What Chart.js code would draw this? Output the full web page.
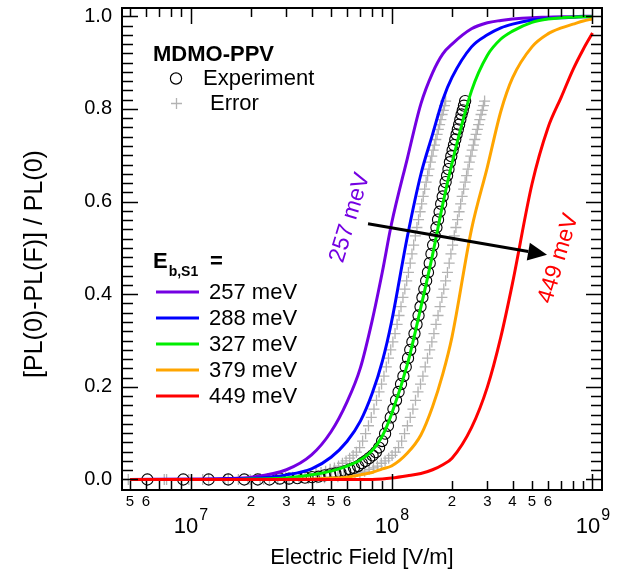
<!DOCTYPE html>
<html>
<head>
<meta charset="utf-8">
<script src="https://cdn.jsdelivr.net/npm/chart.js@4.4.1/dist/chart.umd.min.js"></script>
<style>
  body { margin: 0; background: #fff; }
  canvas { display: block; }
</style>
</head>
<body>
<canvas id="chart" width="632" height="571"></canvas>
<script>
// ========================
// Data
// ========================
// fitted curves, field in V/m
const fieldGrid = [5e6, 1e7, 1.5e7, 2e7, 3e7, 4e7, 5e7, 6e7, 7e7, 8e7, 9e7, 1e8, 1.2e8, 1.4e8, 1.6e8, 1.8e8, 2e8, 2.5e8, 3e8, 3.5e8, 4e8, 5e8, 6e8, 7e8, 8e8, 9e8, 1e9];
const fit257 = [0.000, 0.001, 0.002, 0.005, 0.021, 0.053, 0.103, 0.167, 0.241, 0.342, 0.448, 0.552, 0.694, 0.811, 0.878, 0.919, 0.940, 0.973, 0.986, 0.991, 0.994, 0.997, 0.998, 0.999, 0.999, 1.000, 1.000];
const fit288 = [0.000, 0.000, 0.001, 0.002, 0.010, 0.023, 0.048, 0.082, 0.126, 0.185, 0.255, 0.340, 0.525, 0.659, 0.745, 0.820, 0.868, 0.934, 0.960, 0.975, 0.983, 0.992, 0.995, 0.997, 0.998, 0.999, 0.999];
const fit327 = [0.000, 0.000, 0.000, 0.001, 0.003, 0.010, 0.018, 0.029, 0.042, 0.062, 0.094, 0.141, 0.249, 0.372, 0.485, 0.595, 0.683, 0.839, 0.916, 0.951, 0.968, 0.987, 0.994, 0.997, 0.998, 0.999, 0.999];
const fit379 = [0.000, 0.000, 0.000, 0.000, 0.000, 0.001, 0.003, 0.005, 0.010, 0.015, 0.023, 0.029, 0.057, 0.096, 0.157, 0.228, 0.308, 0.540, 0.675, 0.795, 0.867, 0.934, 0.962, 0.975, 0.983, 0.990, 0.994];
const fit449 = [0.000, 0.000, 0.000, 0.000, 0.000, 0.000, 0.000, 0.000, 0.000, 0.000, 0.001, 0.003, 0.008, 0.013, 0.021, 0.032, 0.046, 0.112, 0.200, 0.308, 0.424, 0.638, 0.759, 0.826, 0.885, 0.929, 0.964];

const fitLabels = ['257 meV', '288 meV', '327 meV', '379 meV', '449 meV'];
const fitColors = ['#7400e2', '#0000ff', '#00ee00', '#ffa500', '#ff0000'];

// experiment, field in MV/m
const expField = [6.1, 9.2, 12.3, 15.4, 18.5, 21.6, 24.7, 27.8, 30.9, 34.0, 37.1, 40.2, 43.3, 46.4, 49.5, 52.6, 55.7, 58.8, 61.9, 65.0,
  68.1, 71.2, 74.3, 77.4, 80.5, 83.6, 86.7, 89.8, 92.9, 96.0, 99.1, 102.2, 105.3, 108.4, 111.5, 114.6, 117.7, 120.8, 123.9, 127.0,
  130.1, 133.2, 136.3, 139.4, 142.5, 145.6, 148.7, 151.8, 154.9, 158.0, 161.1, 164.2, 167.3, 170.4, 173.5, 176.6, 179.7, 182.8, 185.9, 189.0,
  192.1, 195.2, 198.3, 201.4, 204.5, 207.6, 210.7, 213.8, 216.9, 220.0, 223.1, 226.2, 229.3, 232.4];
const expSignal = [0.000, 0.000, 0.000, 0.000, 0.000, 0.000, 0.000, 0.002, 0.002, 0.003, 0.004, 0.005, 0.006, 0.009, 0.011, 0.013, 0.015, 0.018, 0.022, 0.025,
  0.029, 0.035, 0.040, 0.046, 0.052, 0.059, 0.069, 0.083, 0.099, 0.116, 0.134, 0.152, 0.171, 0.189, 0.206, 0.223, 0.243, 0.262, 0.280, 0.297,
  0.315, 0.335, 0.354, 0.373, 0.393, 0.411, 0.429, 0.447, 0.467, 0.487, 0.506, 0.526, 0.544, 0.561, 0.578, 0.595, 0.611, 0.627, 0.642, 0.656,
  0.670, 0.685, 0.698, 0.711, 0.722, 0.734, 0.745, 0.756, 0.766, 0.777, 0.788, 0.797, 0.807, 0.817];
// error markers (field in MV/m), same heights as experiment
const errLowField = [4.9, 7.4, 9.8, 12.3, 14.8, 17.3, 19.8, 22.2, 24.7, 27.2, 29.7, 32.2, 34.6, 37.1, 39.6, 42.1, 44.6, 47.0, 49.5, 52.0,
  54.5, 57.0, 59.4, 61.9, 64.4, 66.9, 69.4, 71.8, 74.3, 76.8, 79.3, 81.8, 84.2, 86.7, 89.2, 91.7, 94.2, 96.6, 99.1, 101.6,
  104.1, 106.6, 109.0, 111.5, 114.0, 116.5, 119.0, 121.4, 123.9, 126.4, 128.9, 131.4, 133.8, 136.3, 138.8, 141.3, 143.8, 146.2, 148.7, 151.2,
  153.7, 156.2, 158.6, 161.1, 163.6, 166.1, 168.6, 171.0, 173.5, 176.0, 178.5, 181.0, 183.4, 185.9];
const errHighField = [7.6, 11.5, 15.4, 19.3, 23.1, 27.0, 30.9, 34.8, 38.6, 42.5, 46.4, 50.3, 54.1, 58.0, 61.9, 65.8, 69.6, 73.5, 77.4, 81.3,
  85.1, 89.0, 92.9, 96.8, 100.6, 104.5, 108.4, 112.3, 116.1, 120.0, 123.9, 127.8, 131.6, 135.5, 139.4, 143.3, 147.1, 151.0, 154.9, 158.8,
  162.6, 166.5, 170.4, 174.3, 178.1, 182.0, 185.9, 189.8, 193.6, 197.5, 201.4, 205.3, 209.1, 213.0, 216.9, 220.8, 224.6, 228.5, 232.4, 236.3,
  240.1, 244.0, 247.9, 251.8, 255.6, 259.5, 263.4, 267.3, 271.1, 275.0, 278.9, 282.8, 286.6, 290.5];

// axes
const X_MIN = 4.56e6, X_MAX = 1.115e9;
const Y_MIN = -0.0227, Y_MAX = 1.0179;
const yMajorTicks = [0, 0.2, 0.4, 0.6, 0.8, 1.0];
const xMajorTicks = [1e7, 1e8, 1e9];
const xMajorExp = ['7', '8', '9'];
const xMinorLabelled = [5e6, 6e6, 2e7, 3e7, 4e7, 5e7, 6e7, 2e8, 3e8, 4e8, 5e8, 6e8];

// annotations
const arrowFrom = [7.64e7, 0.552];
const arrowTo = [5.94e8, 0.485];
const lowLabel = { text: '257 meV', at: [6.22e7, 0.565], color: '#7400e2' };
const highLabel = { text: '449 meV', at: [6.78e8, 0.477], color: '#ff0000' };

const FONT = '"Liberation Sans", Arial, sans-serif';

// ========================
// Datasets
// ========================
const fits = [fit257, fit288, fit327, fit379, fit449];
const datasets = fits.map((ys, i) => ({
  label: fitLabels[i],
  data: fieldGrid.map((f, j) => ({ x: f, y: ys[j] })),
  showLine: true,
  borderColor: fitColors[i],
  borderWidth: 3,
  pointRadius: 0,
  cubicInterpolationMode: 'monotone',
  order: 5 - i
}));

datasets.push({
  label: 'Experiment',
  data: expField.map((f, j) => ({ x: f * 1e6, y: expSignal[j] })),
  showLine: false,
  pointStyle: 'circle',
  pointRadius: 5.6,
  pointBorderWidth: 1.1,
  borderColor: '#000',
  backgroundColor: 'rgba(0,0,0,0)',
  order: 10
});
datasets.push({
  label: 'Error',
  data: errLowField.map((f, j) => ({ x: f * 1e6, y: expSignal[j] }))
    .concat(errHighField.map((f, j) => ({ x: f * 1e6, y: expSignal[j] }))),
  showLine: false,
  pointStyle: 'cross',
  pointRadius: 5.5,
  pointBorderWidth: 1.3,
  borderColor: '#b3b3b3',
  backgroundColor: '#b3b3b3',
  order: 11
});

// ========================
// Frame, ticks, labels, legend
// ========================
const decorations = {
  id: 'decorations',
  afterDatasetsDraw(chart) {
    const { ctx, chartArea: a, scales: { x, y } } = chart;
    ctx.save();

    // arrow
    const x0 = x.getPixelForValue(arrowFrom[0]), y0 = y.getPixelForValue(arrowFrom[1]);
    const x1 = x.getPixelForValue(arrowTo[0]), y1 = y.getPixelForValue(arrowTo[1]);
    const ang = Math.atan2(y1 - y0, x1 - x0);
    const head = 19, half = 9;
    ctx.strokeStyle = '#000';
    ctx.fillStyle = '#000';
    ctx.lineWidth = 3;
    ctx.beginPath();
    ctx.moveTo(x0, y0);
    ctx.lineTo(x1 - head * Math.cos(ang), y1 - head * Math.sin(ang));
    ctx.stroke();
    ctx.beginPath();
    ctx.moveTo(x1, y1);
    ctx.lineTo(x1 - head * Math.cos(ang) + half * Math.sin(ang), y1 - head * Math.sin(ang) - half * Math.cos(ang));
    ctx.lineTo(x1 - head * Math.cos(ang) - half * Math.sin(ang), y1 - head * Math.sin(ang) + half * Math.cos(ang));
    ctx.closePath();
    ctx.fill();

    // rotated labels
    [lowLabel, highLabel].forEach(l => {
      ctx.save();
      ctx.translate(x.getPixelForValue(l.at[0]), y.getPixelForValue(l.at[1]));
      ctx.rotate(-73 * Math.PI / 180);
      ctx.font = `23px ${FONT}`;
      ctx.fillStyle = l.color;
      ctx.textAlign = 'center';
      ctx.textBaseline = 'middle';
      ctx.fillText(l.text, 0, 0);
      ctx.restore();
    });

    // frame
    ctx.strokeStyle = '#000';
    ctx.lineWidth = 2;
    ctx.strokeRect(a.left, a.top, a.right - a.left, a.bottom - a.top);

    // y ticks (inward, both sides)
    ctx.lineWidth = 1.5;
    ctx.beginPath();
    for (let i = -1; i <= 50; i++) {
      const v = i * 0.02;
      const p = Math.round(y.getPixelForValue(v)) + 0.5;
      if (p < a.top + 1 || p > a.bottom - 1) continue;
      const len = i % 10 === 0 ? 16 : 11;
      ctx.moveTo(a.left, p); ctx.lineTo(a.left + len, p);
      ctx.moveTo(a.right, p); ctx.lineTo(a.right - len, p);
    }
    // x ticks
    for (let e = 6; e <= 9; e++) {
      for (let m = 1; m <= 9; m++) {
        const v = m * Math.pow(10, e);
        if (v < X_MIN || v > X_MAX) continue;
        const p = Math.round(x.getPixelForValue(v)) + 0.5;
        const len = m === 1 ? 16 : 9;
        ctx.moveTo(p, a.bottom); ctx.lineTo(p, a.bottom - len);
        ctx.moveTo(p, a.top); ctx.lineTo(p, a.top + len);
      }
    }
    ctx.stroke();

    // y tick labels
    ctx.fillStyle = '#000';
    ctx.font = `20px ${FONT}`;
    ctx.textAlign = 'right';
    ctx.textBaseline = 'middle';
    yMajorTicks.forEach(v => ctx.fillText(v.toFixed(1), a.left - 10, y.getPixelForValue(v)));

    // x minor labels
    ctx.font = `15px ${FONT}`;
    ctx.textAlign = 'center';
    xMinorLabelled.forEach(v => {
      const digit = String(v).charAt(0);
      ctx.fillText(digit, x.getPixelForValue(v), a.bottom + 12);
    });

    // x major labels 10^n
    xMajorTicks.forEach((v, i) => {
      ctx.font = `22px ${FONT}`;
      const wBase = ctx.measureText('10').width;
      ctx.font = `16px ${FONT}`;
      const wExp = ctx.measureText(xMajorExp[i]).width;
      const left = x.getPixelForValue(v) - (wBase + wExp) / 2;
      ctx.textAlign = 'left';
      ctx.font = `22px ${FONT}`;
      ctx.fillText('10', left, a.bottom + 37);
      ctx.font = `16px ${FONT}`;
      ctx.fillText(xMajorExp[i], left + wBase + 1, a.bottom + 26);
    });

    // axis titles
    ctx.font = `22px ${FONT}`;
    ctx.textAlign = 'center';
    ctx.fillText('Electric Field [V/m]', (a.left + a.right) / 2, a.bottom + 68);
    ctx.save();
    ctx.translate(35, 264);
    ctx.rotate(-Math.PI / 2);
    ctx.font = `25px ${FONT}`;
    ctx.fillText('[PL(0)-PL(F)] / PL(0)', 0, 0);
    ctx.restore();

    // legend: sample block
    ctx.textAlign = 'left';
    ctx.font = `bold 22px ${FONT}`;
    ctx.fillText('MDMO-PPV', 153, 55);
    ctx.font = `22px ${FONT}`;
    ctx.fillText('Experiment', 203, 79);
    ctx.fillText('Error', 210, 104);
    ctx.strokeStyle = '#000';
    ctx.lineWidth = 1.2;
    ctx.beginPath();
    ctx.arc(176, 78.5, 5.6, 0, Math.PI * 2);
    ctx.stroke();
    ctx.strokeStyle = '#b3b3b3';
    ctx.lineWidth = 1.3;
    ctx.beginPath();
    ctx.moveTo(171, 103.5); ctx.lineTo(182, 103.5);
    ctx.moveTo(176.5, 98); ctx.lineTo(176.5, 109);
    ctx.stroke();

    // legend: binding energies
    ctx.font = `bold 22px ${FONT}`;
    ctx.fillText('E', 153, 262);
    const wE = ctx.measureText('E').width;
    ctx.font = `bold 14px ${FONT}`;
    ctx.fillText('b,S1', 153 + wE + 1, 272);
    ctx.font = `bold 22px ${FONT}`;
    ctx.fillText('=', 210, 262);

    ctx.font = `22px ${FONT}`;
    fitLabels.forEach((t, i) => {
      const ry = 292 + i * 26;
      ctx.strokeStyle = fitColors[i];
      ctx.lineWidth = 3;
      ctx.beginPath();
      ctx.moveTo(156, ry); ctx.lineTo(199, ry);
      ctx.stroke();
      ctx.fillText(t, 209, ry + 1);
    });

    ctx.restore();
  }
};

// ========================
// Chart
// ========================
new Chart(document.getElementById('chart'), {
  type: 'scatter',
  data: { datasets },
  options: {
    responsive: false,
    animation: false,
    devicePixelRatio: 1,
    layout: { padding: { left: 122, right: 30, top: 8, bottom: 81 } },
    scales: {
      x: { type: 'logarithmic', min: X_MIN, max: X_MAX, display: false },
      y: { type: 'linear', min: Y_MIN, max: Y_MAX, display: false }
    },
    plugins: { legend: { display: false }, tooltip: { enabled: false } }
  },
  plugins: [decorations]
});
</script>
</body>
</html>
